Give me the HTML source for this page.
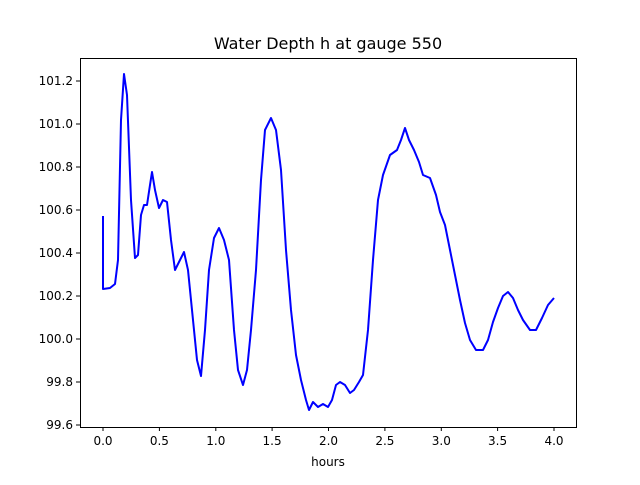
<!DOCTYPE html>
<html><head><style>body{margin:0;background:#fff}</style></head><body>
<svg width="640" height="480" xmlns="http://www.w3.org/2000/svg" font-family="DejaVu Sans, Liberation Sans, sans-serif">
<rect width="640" height="480" fill="#fff"/>
<text x="328" y="49" font-size="16" text-anchor="middle">Water Depth h at gauge 550</text>
<polyline fill="none" stroke="#0000ff" stroke-width="2" stroke-linejoin="round" points="103,216 103,289 110,288 115,284 118,260 121,120 124,74 127,95 131,200 135,258 138,255 141,215 144,205 147,205 150,185 152,172 155,190 159,208 163,200 167,202 171,240 175,270 179,262 184,252 188,270 192,310 197,360 201,376 205,330 209,270 214,238 219,228 224,240 229,260 234,330 238,370 243,385 247,370 251,330 256,270 261,180 265,130 271,118 276,130 281,170 286,250 291,310 296,355 301,380 306,400 309,410 313,402 318,407 323,404 328,407 332,400 336,385 340,382 345,385 350,393 354,390 359,382 363,375 368,330 373,260 378,200 383,175 390,155 397,150 401,140 405,128 409,140 414,150 419,162 423,175 430,178 436,195 440,212 445,225 450,250 455,275 460,300 465,323 470,340 476,350 483,350 488,340 493,322 498,308 503,296 508,292 513,298 518,310 523,320 530,330 536,330 542,318 548,305 554,298"/>
<rect x="80.5" y="58.5" width="496" height="369" fill="none" stroke="#000" stroke-width="1"/>
<g stroke="#000" stroke-width="1">
<line x1="103" y1="427" x2="103" y2="431"/><line x1="159.4" y1="427" x2="159.4" y2="431"/><line x1="215.8" y1="427" x2="215.8" y2="431"/><line x1="272.1" y1="427" x2="272.1" y2="431"/><line x1="328.5" y1="427" x2="328.5" y2="431"/><line x1="384.9" y1="427" x2="384.9" y2="431"/><line x1="441.3" y1="427" x2="441.3" y2="431"/><line x1="497.6" y1="427" x2="497.6" y2="431"/><line x1="554" y1="427" x2="554" y2="431"/>
<line x1="76" y1="425" x2="80" y2="425"/><line x1="76" y1="382" x2="80" y2="382"/><line x1="76" y1="339" x2="80" y2="339"/><line x1="76" y1="296" x2="80" y2="296"/><line x1="76" y1="253" x2="80" y2="253"/><line x1="76" y1="210" x2="80" y2="210"/><line x1="76" y1="167" x2="80" y2="167"/><line x1="76" y1="124" x2="80" y2="124"/><line x1="76" y1="81" x2="80" y2="81"/>
</g>
<g font-size="12" text-anchor="middle">
<text x="103" y="445">0.0</text><text x="159.4" y="445">0.5</text><text x="215.8" y="445">1.0</text><text x="272.1" y="445">1.5</text><text x="328.5" y="445">2.0</text><text x="384.9" y="445">2.5</text><text x="441.3" y="445">3.0</text><text x="497.6" y="445">3.5</text><text x="554" y="445">4.0</text>
<text x="328" y="466">hours</text>
</g>
<g font-size="12" text-anchor="end">
<text x="73" y="429">99.6</text><text x="73" y="386">99.8</text><text x="73" y="343">100.0</text><text x="73" y="300">100.2</text><text x="73" y="257">100.4</text><text x="73" y="214">100.6</text><text x="73" y="171">100.8</text><text x="73" y="128">101.0</text><text x="73" y="85">101.2</text>
</g>
</svg>
</body></html>
